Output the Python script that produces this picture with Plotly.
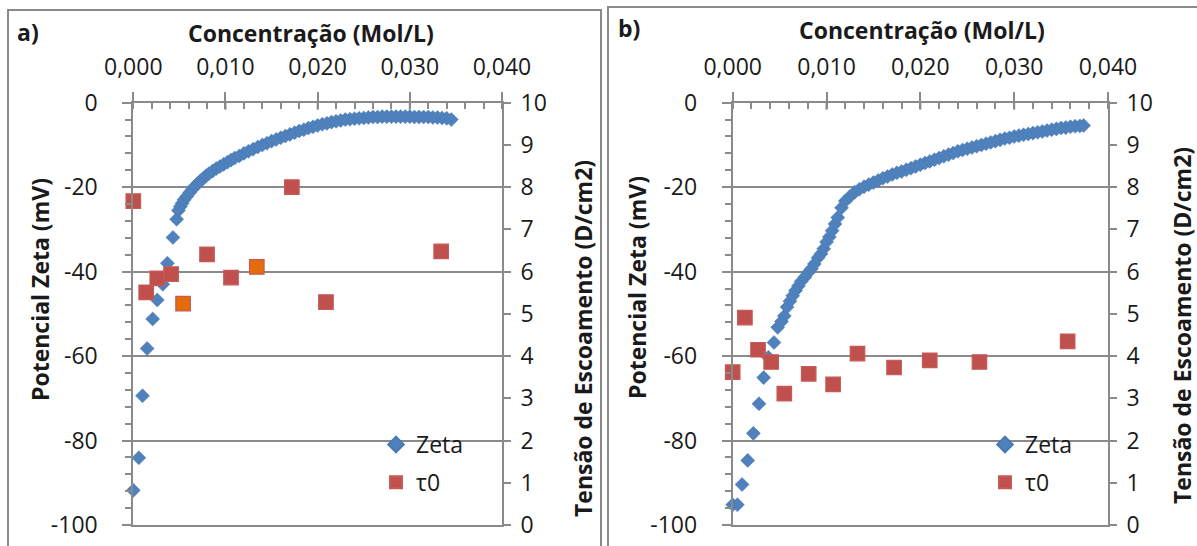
import plotly.graph_objects as go

# ---------------- data ----------------
# Panel a) Zeta potential (mV) vs concentration (mol/L)
a_conc = [0.0000, 0.0006, 0.0010, 0.0015, 0.0021, 0.0026, 0.0032, 0.0037, 0.0043, 0.0047,
          0.0049, 0.0051, 0.0053, 0.0055, 0.0058, 0.0061, 0.0064, 0.0067, 0.0070, 0.0073,
          0.0076, 0.0079, 0.0082, 0.0086, 0.0090, 0.0094, 0.0098, 0.0102, 0.0106, 0.0110,
          0.0115, 0.0120, 0.0125, 0.0130, 0.0135, 0.0140, 0.0145, 0.0150, 0.0155, 0.0160,
          0.0165, 0.0170, 0.0175, 0.0180, 0.0185, 0.0190, 0.0195, 0.0200, 0.0205, 0.0210,
          0.0215, 0.0220, 0.0225, 0.0230, 0.0235, 0.0240, 0.0245, 0.0250, 0.0255, 0.0260,
          0.0265, 0.0270, 0.0275, 0.0280, 0.0285, 0.0290, 0.0295, 0.0300, 0.0305, 0.0310,
          0.0315, 0.0320, 0.0325, 0.0330, 0.0335, 0.0340, 0.0345]
a_zeta = [-91.8, -84.1, -69.4, -58.2, -51.2, -46.7, -43.0, -38.0, -31.9, -27.6,
          -25.5, -24.6, -23.8, -23.0, -22.2, -21.3, -20.5, -19.8, -19.1, -18.5,
          -17.9, -17.3, -16.8, -16.2, -15.6, -15.1, -14.6, -14.1, -13.6, -13.1,
          -12.6, -12.0, -11.5, -11.0, -10.5, -10.0, -9.6, -9.1, -8.7, -8.3,
          -7.9, -7.5, -7.1, -6.7, -6.4, -6.0, -5.7, -5.4, -5.1, -4.9,
          -4.6, -4.4, -4.2, -4.0, -3.9, -3.8, -3.7, -3.6, -3.5, -3.4,
          -3.4, -3.3, -3.3, -3.3, -3.3, -3.3, -3.3, -3.3, -3.4, -3.4,
          -3.4, -3.4, -3.5, -3.5, -3.6, -3.7, -4.0]
# Panel a) yield stress tau0 (D/cm2)
a_tau_conc = [0.0000, 0.0014, 0.0026, 0.0041, 0.0054, 0.0080, 0.0106, 0.0134, 0.0172, 0.0209, 0.0334]
a_tau = [7.67, 5.51, 5.84, 5.94, 5.24, 6.41, 5.86, 6.11, 8.00, 5.28, 6.48]
a_tau_highlight = [4, 7]   # points drawn with orange fill

# Panel b) Zeta potential
b_conc = [0.0000, 0.0005, 0.0010, 0.0016, 0.0022, 0.0028, 0.0033, 0.0038, 0.0044, 0.0048,
          0.0052, 0.0055, 0.0058, 0.0061, 0.0064, 0.0067, 0.0070, 0.0073, 0.0077, 0.0080,
          0.0084, 0.0087, 0.0091, 0.0094, 0.0097, 0.0100, 0.0103, 0.0106, 0.0109, 0.0112,
          0.0116, 0.0120, 0.0125, 0.0130, 0.0135, 0.0140, 0.0145, 0.0150, 0.0155, 0.0160,
          0.0165, 0.0170, 0.0175, 0.0180, 0.0185, 0.0190, 0.0195, 0.0200, 0.0205, 0.0210,
          0.0215, 0.0220, 0.0225, 0.0230, 0.0235, 0.0240, 0.0245, 0.0250, 0.0255, 0.0260,
          0.0265, 0.0270, 0.0275, 0.0280, 0.0285, 0.0290, 0.0295, 0.0300, 0.0305, 0.0310,
          0.0315, 0.0320, 0.0325, 0.0330, 0.0335, 0.0340, 0.0345, 0.0350, 0.0355, 0.0360,
          0.0365, 0.0370, 0.0374]
b_zeta = [-95.2, -95.2, -90.4, -84.7, -78.3, -71.3, -65.1, -60.3, -56.8, -53.2,
          -51.8, -50.5, -48.4, -47.0, -45.7, -44.5, -43.4, -42.3, -41.3, -40.3,
          -39.3, -38.2, -36.7, -35.8, -34.6, -33.0, -31.8, -30.3, -28.7, -27.2,
          -24.9, -23.3, -22.2, -21.2, -20.5, -19.9, -19.4, -18.9, -18.4, -17.9,
          -17.5, -17.0, -16.6, -16.3, -15.9, -15.5, -15.1, -14.7, -14.3, -13.9,
          -13.5, -13.1, -12.7, -12.3, -11.9, -11.5, -11.2, -10.9, -10.6, -10.3,
          -10.0, -9.7, -9.4, -9.1, -8.8, -8.5, -8.3, -8.0, -7.8, -7.6,
          -7.4, -7.2, -7.0, -6.8, -6.6, -6.4, -6.2, -6.0, -5.9, -5.7,
          -5.6, -5.5, -5.4]
b_tau_conc = [0.0000, 0.0013, 0.0027, 0.0041, 0.0055, 0.0081, 0.0107, 0.0133, 0.0172, 0.0210, 0.0263, 0.0357]
b_tau = [3.62, 4.91, 4.15, 3.86, 3.11, 3.58, 3.33, 4.06, 3.73, 3.90, 3.86, 4.35]

# tick labels
conc_ticks = [0.0, 0.01, 0.02, 0.03, 0.04]
conc_labels = ["0,000", "0,010", "0,020", "0,030", "0,040"]
zeta_ticks = [0, -20, -40, -60, -80, -100]
zeta_labels = ["0", "-20", "-40", "-60", "-80", "-100"]
tau_ticks = list(range(0, 11))
tau_labels = [str(v) for v in tau_ticks]

x_title = "Concentração (Mol/L)"
y_title = "Potencial Zeta (mV)"
y2_title = "Tensão de Escoamento (D/cm2)"

# ---------------- style ----------------
W, H = 1197, 546
FONT = "Open Sans"
GRAY = "#8a8a8a"
BLUE = "#4F81BD"
RED = "#C0504D"
ORANGE = "#E46C0A"
TXT = "#1a1a1a"

def px(x):
    return x / W

def py(y):
    return 1 - y / H

Y_TOP, Y_BOT = 102.7, 525.0
panels = {
    "a": dict(x0=133.3, x1=502.0, xa="x", ya="y", ya2="y2", legend="legend",
              leg_x=376, box=(360, 484)),
    "b": dict(x0=732.7, x1=1108.0, xa="x2", ya="y3", ya2="y4", legend="legend2",
              leg_x=985, box=(982, 1083)),
}

fig = go.Figure()

a_tau_fill = [ORANGE if i in a_tau_highlight else RED for i in range(len(a_tau))]

series = {
    "a": (a_conc, a_zeta, a_tau_conc, a_tau, a_tau_fill),
    "b": (b_conc, b_zeta, b_tau_conc, b_tau, [RED] * len(b_tau)),
}

for key, p in panels.items():
    zc, zv, tc, tv, tfill = series[key]
    fig.add_trace(go.Scatter(
        x=zc, y=zv, xaxis=p["xa"], yaxis=p["ya"], mode="markers", name="Zeta",
        legend=p["legend"], legendgroup=key + "z", cliponaxis=False,
        marker=dict(symbol="diamond", size=10.8, color=BLUE,
                    line=dict(color="#4a7ab3", width=0.5)),
    ))
    fig.add_trace(go.Scatter(
        x=tc, y=tv, xaxis=p["xa"], yaxis=p["ya2"], mode="markers", name="τ0",
        legend=p["legend"], legendgroup=key + "t", cliponaxis=False,
        marker=dict(symbol="square", size=14.5, color=tfill,
                    line=dict(color="#c65a57", width=1.2)),
    ))

common_font = dict(family=FONT, size=23, color=TXT)

layout = dict(
    width=W, height=H, margin=dict(l=0, r=0, t=0, b=0, pad=0, autoexpand=False),
    paper_bgcolor="white", plot_bgcolor="white",
    showlegend=True, font=common_font,
)

for key, p in panels.items():
    xname = "xaxis" if p["xa"] == "x" else "xaxis" + p["xa"][1:]
    yname = "yaxis" if p["ya"] == "y" else "yaxis" + p["ya"][1:]
    y2name = "yaxis" + p["ya2"][1:]
    layout[xname] = dict(
        domain=[px(p["x0"]), px(p["x1"])], anchor=p["ya"], side="top",
        range=[0, 0.04], tickvals=conc_ticks, ticktext=conc_labels,
        ticks="outside", ticklen=9, tickwidth=2, tickcolor=GRAY,
        minor=dict(ticks="inside", ticklen=6, tickwidth=2, tickcolor=GRAY, dtick=0.002,
                   showgrid=False),
        showline=True, linecolor=GRAY, linewidth=2, mirror=True,
        showgrid=False, zeroline=False, ticklabelstandoff=8, automargin=False,
        tickfont=common_font,
    )
    layout[yname] = dict(
        domain=[py(Y_BOT), py(Y_TOP)], anchor=p["xa"],
        range=[-100, 0], tickvals=zeta_ticks, ticktext=zeta_labels,
        ticks="outside", ticklen=9, tickwidth=2, tickcolor=GRAY,
        minor=dict(ticks="outside", ticklen=6, tickwidth=2, tickcolor=GRAY,
                   tickvals=[v for v in range(-96, 0, 4) if v % 20 != 0], showgrid=False),
        showline=True, linecolor=GRAY, linewidth=2,
        showgrid=True, gridcolor=GRAY, gridwidth=2, zeroline=False,
        ticklabelstandoff=20, automargin=False, tickfont=common_font,
    )
    layout[y2name] = dict(
        overlaying=p["ya"], anchor=p["xa"], side="right",
        range=[0, 10], tickvals=tau_ticks, ticktext=tau_labels,
        ticks="outside", ticklen=7, tickwidth=2, tickcolor=GRAY,
        showline=True, linecolor=GRAY, linewidth=2,
        showgrid=False, zeroline=False, ticklabelstandoff=5, automargin=False,
        tickfont=common_font,
    )
    layout[p["legend"]] = dict(
        x=px(p["leg_x"]), y=py(423), xanchor="left", yanchor="top",
        bgcolor="rgba(255,255,255,0)", borderwidth=0,
        font=dict(family=FONT, size=23, color=TXT),
        tracegroupgap=5, itemsizing="constant", traceorder="grouped",
    )

fig.update_layout(**layout)

# panel borders
shapes = [
    dict(type="rect", xref="paper", yref="paper", x0=px(8), x1=px(601), y0=-0.2, y1=py(10),
         line=dict(color=GRAY, width=2), fillcolor="rgba(0,0,0,0)", layer="below"),
    dict(type="rect", xref="paper", yref="paper", x0=px(608), x1=1.2, y0=-0.2, y1=py(7),
         line=dict(color=GRAY, width=2), fillcolor="rgba(0,0,0,0)", layer="below"),
]
for key, p in panels.items():
    # white legend background hiding the gridline
    shapes.append(dict(type="rect", xref="paper", yref="paper",
                       x0=px(p["box"][0]), x1=px(p["box"][1]), y0=py(500), y1=py(428),
                       line=dict(width=0), fillcolor="white", layer="between"))
    # inward part of the crossing major ticks on the top axes
    for v in conc_ticks[1:-1]:
        shapes.append(dict(type="line", xref=p["xa"], yref="paper", x0=v, x1=v,
                           y0=py(Y_TOP), y1=py(Y_TOP + 7), line=dict(color=GRAY, width=2)))
fig.update_layout(shapes=shapes)

bold = dict(family=FONT, size=23, color=TXT, weight=700)


def label(text, x, y, angle=0):
    return dict(text=text, x=px(x), y=py(y), xref="paper", yref="paper", showarrow=False,
                xanchor="center", yanchor="middle", textangle=angle, font=bold)


ann = [
    label("a)", 28, 32),
    label("b)", 629, 28),
    label(x_title, 311, 33),
    label(x_title, 922, 30),
    label(y_title, 40, 290, -90),
    label(y_title, 637, 288, -90),
    label(y2_title, 583, 339, -90),
    label(y2_title, 1182, 326, -90),
]
fig.update_layout(annotations=ann)

fig.write_html("out.html", config={"displayModeBar": False},
               post_script="document.body.style.margin='0px';")
